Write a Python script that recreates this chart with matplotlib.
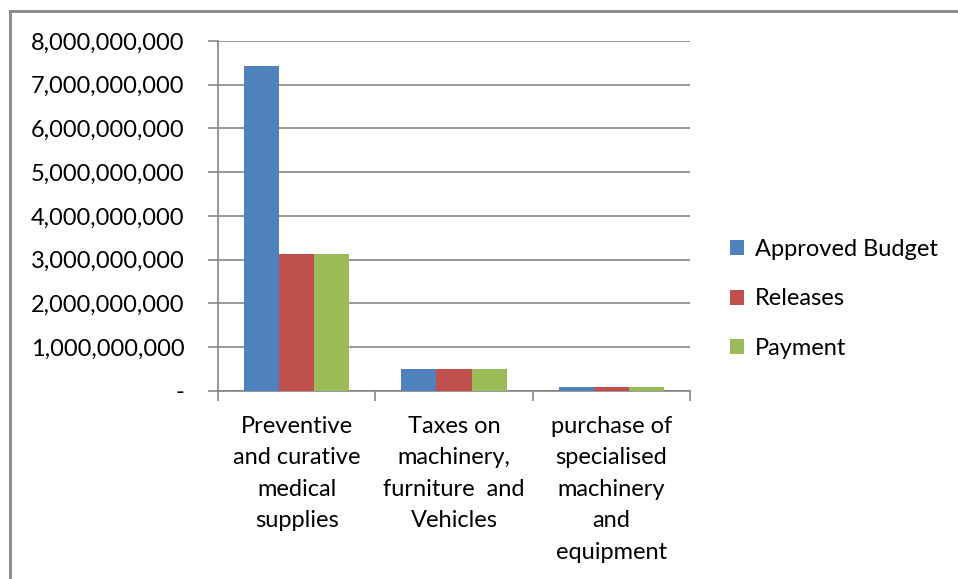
import numpy as np
import matplotlib.pyplot as plt
from matplotlib.lines import Line2D
from matplotlib.ticker import FuncFormatter

categories = ['Preventive\nand curative\nmedical\nsupplies',
              'Taxes on\nmachinery,\nfurniture  and\nVehicles',
              'purchase of\nspecialised\nmachinery\nand\nequipment']
approved = [7.42e9, 0.50e9, 0.092e9]
releases = [3.13e9, 0.50e9, 0.092e9]
payment = [3.13e9, 0.50e9, 0.092e9]
series_names = ['Approved Budget', 'Releases', 'Payment']
colors = ['#4F81BD', '#C0504D', '#9BBB59']

plt.rcParams['font.family'] = ['Lato', 'DejaVu Sans']
grey = '#868686'
fs = 17

fig = plt.figure(figsize=(9.58, 5.79), dpi=100)
ax = fig.add_axes([218 / 958, 1 - 390.7 / 579, (690 - 218) / 958, (390.7 - 41) / 579])

x = np.arange(len(categories))
w = 0.223
for i, (vals, name) in enumerate(zip([approved, releases, payment], series_names)):
    ax.bar(x + (i - 1) * w, vals, width=w, color=colors[i], label=name, zorder=3)

ax.set_xlim(-0.5, 2.5)
ax.set_ylim(0, 8e9)
ax.set_yticks(np.arange(0, 8.01e9, 1e9))
ax.yaxis.set_major_formatter(FuncFormatter(lambda v, p: '-' if v == 0 else '{:,.0f}'.format(v)))
ax.grid(axis='y', color=grey, lw=1.2, zorder=0)

ax.set_xticks(x)
ax.set_xticklabels(categories, va='top')
ax.set_xticks([-0.5, 0.5, 1.5, 2.5], minor=True)
ax.tick_params(axis='x', which='major', length=0, pad=18, labelsize=fs, colors='#000000')
ax.tick_params(axis='x', which='minor', length=7, width=1.2, color=grey)
ax.tick_params(axis='y', length=7, width=1.2, color=grey, pad=17, labelsize=fs)
for t in ax.get_xticklabels():
    t.set_linespacing(1.62)

for s in ['top', 'right']:
    ax.spines[s].set_visible(False)
ax.spines['left'].set_color(grey)
ax.spines['bottom'].set_color(grey)
ax.spines['left'].set_linewidth(1.2)
ax.spines['bottom'].set_linewidth(1.2)

fig.legend(loc='center left', bbox_to_anchor=(709 / 958, 1 - 299 / 579), frameon=False,
           fontsize=fs, handlelength=0.6, handleheight=0.6, handletextpad=0.45,
           labelspacing=1.2)

# outer chart frame (continues past the right and bottom edges)
fig.add_artist(Line2D([9.5 / 958, 9.5 / 958], [0, 1 - 11 / 579], color='#888888', lw=2,
                      transform=fig.transFigure))
fig.add_artist(Line2D([9.5 / 958, 1], [1 - 11 / 579, 1 - 11 / 579], color='#888888', lw=2,
                      transform=fig.transFigure))

fig.savefig('out.png', dpi=100)
